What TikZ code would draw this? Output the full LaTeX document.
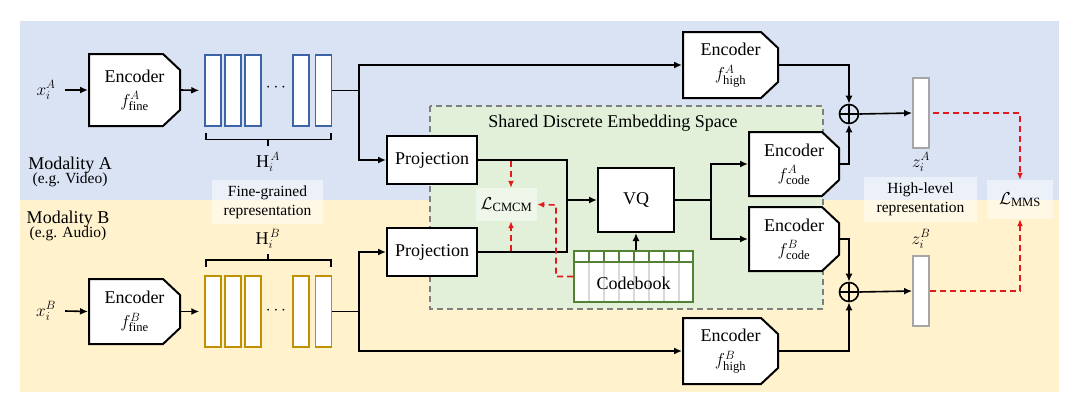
\documentclass[tikz,border=0pt]{standalone}
\usepackage{fontspec}
\setmainfont{Liberation Serif}
\usetikzlibrary{arrows.meta,calc}
\definecolor{bgblue}{HTML}{DAE3F3}
\definecolor{bgyellow}{HTML}{FFF2CC}
\definecolor{bggreen}{HTML}{E2F0D9}
\definecolor{barblue}{HTML}{3E64A8}
\definecolor{bargold}{HTML}{BF9000}
\definecolor{cbgreen}{HTML}{548235}
\definecolor{dashgray}{HTML}{7F7F7F}
\definecolor{zgray}{HTML}{A6A6A6}
\definecolor{lossred}{HTML}{E31A1C}
% name, cx, cy, w, h, text
\newcommand\encbox[6]{%
  \filldraw[fill=white,line width=2pt,line join=miter]
    ({#2-#4/2},{#3-#5/2}) -- ({#2+#4/2-17},{#3-#5/2}) -- ({#2+#4/2},{#3-#5/2+16})
    -- ({#2+#4/2},{#3+#5/2-16}) -- ({#2+#4/2-17},{#3+#5/2}) -- ({#2-#4/2},{#3+#5/2}) -- cycle;
  \node[encin,minimum width=#4pt,minimum height=#5pt] (#1) at (#2,#3) {#6};}
\begin{document}
\begin{tikzpicture}[x=1pt,y=-1pt,
  big/.style={font=\fontsize{18}{24}\selectfont},
  small/.style={font=\fontsize{15.5}{19}\selectfont},
  line/.style={line width=1.6pt},
  conn/.style={line width=1.6pt,-{Latex[length=8pt,width=7pt]}},
  rdash/.style={line width=1.6pt,draw=lossred,dash pattern=on 6pt off 4pt,-{Latex[length=7pt,width=6pt]}},
  encin/.style={rectangle,align=center,inner sep=0pt,outer sep=1pt,big},
  box/.style={draw,line width=2pt,fill=white,inner sep=0pt,big},
  barA/.style={draw=barblue,line width=1.5pt,fill=white,minimum width=16pt,minimum height=71pt,inner sep=0pt},
  barB/.style={draw=bargold,line width=1.5pt,fill=white,minimum width=16pt,minimum height=71pt,inner sep=0pt},
  zbar/.style={draw=zgray,line width=1.8pt,fill=white,minimum width=16pt,minimum height=70pt,inner sep=0pt},
  lbl/.style={fill=white,fill opacity=0.5,text opacity=1,inner sep=0pt,align=center},
  oplus/.style={circle,draw,line width=1.6pt,minimum size=19pt,inner sep=0pt},
  bracket/.style={line width=1.6pt}
]
\useasboundingbox (0,0) rectangle (1080,413);
% backgrounds
\fill[bgblue] (20,21) rectangle (1059,200);
\fill[bgyellow] (20,200) rectangle (1059,392);
\filldraw[fill=bggreen,draw=dashgray,line width=1.5pt,dash pattern=on 6pt off 4pt] (430,106) rectangle (823,309);
\node[big] (shared) at (613,123) {Shared Discrete Embedding Space};

% modality labels
\node[align=center,inner sep=0pt] (modA) at (70,172) {{\fontsize{18}{20}\selectfont Modality A}\\[-1pt]{\fontsize{15.5}{19}\selectfont (e.g. Video)}};
\node[align=center,inner sep=0pt] (modB) at (68,226) {{\fontsize{18}{20}\selectfont Modality B}\\[-1pt]{\fontsize{15.5}{19}\selectfont (e.g. Audio)}};

% inputs
\node[big,inner sep=0pt] (xA) at (46,90) {$x_i^A$};
\node[big,inner sep=0pt] (xB) at (46,311) {$x_i^B$};

% fine encoders
\encbox{encFA}{134.5}{90}{91}{72}{Encoder\\$f^A_{\mathrm{fine}}$}
\encbox{encFB}{134.5}{311.5}{91}{65}{Encoder\\$f^B_{\mathrm{fine}}$}

% bars A
\node[barA] (a1) at (213,90.5) {};
\node[barA] (a2) at (233,90.5) {};
\node[barA] (a3) at (253,90.5) {};
\node[big] (dA) at (276,88) {$\cdots$};
\node[barA] (a4) at (301,90.5) {};
\node[barA] (a5) at (323.5,90.5) {};
% bars B
\node[barB] (b1) at (213,311.5) {};
\node[barB] (b2) at (233,311.5) {};
\node[barB] (b3) at (253,311.5) {};
\node[big] (dB) at (276,311) {$\cdots$};
\node[barB] (b4) at (301,311.5) {};
\node[barB] (b5) at (323.5,311.5) {};

% brackets
\draw[bracket] (206,133) -- (206,139.5) -- (331,139.5) -- (331,133);
\draw[bracket] (268,139.5) -- (268,146);
\draw[bracket] (206,266.5) -- (206,260) -- (331,260) -- (331,266.5);
\draw[bracket] (268,260) -- (268,253.5);
\node[big,inner sep=0pt] (HA) at (268,162) {$\mathrm{H}_i^{\kern1.5pt A}$};
\node[big,inner sep=0pt] (HB) at (268,239) {$\mathrm{H}_i^{\kern1.5pt B}$};

\node[lbl,minimum width=111pt,minimum height=44pt,small] (fgr) at (267.5,202) {Fine-grained\\representation};

% projections, VQ, codebook
\node[box,minimum width=90pt,minimum height=48pt] (projA) at (432,160) {Projection};
\node[box,minimum width=90pt,minimum height=48pt] (projB) at (432,252) {Projection};
\node[box,minimum width=76pt,minimum height=64pt] (vq) at (636,200) {VQ};
\node[lbl,fill opacity=0.45,minimum width=61pt,minimum height=33pt,big] (lcm) at (506.5,204.5) {$\mathcal{L}_{\mathrm{CMCM}}$};

\fill[white] (574,251) rectangle (693,302);
\foreach \k in {1,...,7}{
  \draw[cbgreen,line width=1.2pt] (574+15*\k,251) -- (574+15*\k,262);
  \draw[black!15,line width=1.2pt] (574+15*\k,262) -- (574+15*\k,302);
}
\draw[cbgreen,line width=1.2pt] (574,262) -- (693,262);
\node[draw=cbgreen,line width=1.6pt,minimum width=119pt,minimum height=51pt,inner sep=0pt] (cb) at (633.5,276.5) {};
\node[big,inner sep=0pt] (cbt) at (633.5,283) {Codebook};

% code encoders, high encoders
\encbox{encCA}{794}{164}{90}{64}{Encoder\\$f^A_{\mathrm{code}}$}
\encbox{encCB}{794}{239}{90}{64}{Encoder\\$f^B_{\mathrm{code}}$}
\encbox{encHA}{730.5}{65}{95}{66}{Encoder\\$f^A_{\mathrm{high}}$}
\encbox{encHB}{730.5}{351}{95}{66}{Encoder\\$f^B_{\mathrm{high}}$}

% oplus
\node[oplus] (oA) at (849,114) {};
\draw[line] (oA.north) -- (oA.south) (oA.west) -- (oA.east);
\node[oplus] (oB) at (849,292) {};
\draw[line] (oB.north) -- (oB.south) (oB.west) -- (oB.east);

% z bars
\node[zbar] (zA) at (921,113) {};
\node[zbar] (zB) at (921,291) {};
\node[big,inner sep=0pt] (zAl) at (921,162) {$z_i^A$};
\node[big,inner sep=0pt] (zBl) at (921,239) {$z_i^B$};
\node[lbl,minimum width=113pt,minimum height=45pt,small] (hlr) at (920.5,199.5) {High-level\\representation};
\node[lbl,minimum width=66pt,minimum height=39pt,big] (lmms) at (1020,199.5) {$\mathcal{L}_{\mathrm{MMS}}$};

% coordinates
\coordinate (jA) at (359,90.5);
\coordinate (jB) at (359,311.5);
\coordinate (jP) at (567,200);
\coordinate (jV) at (711,200);
\coordinate (r1) at (511,161);
\coordinate (r2) at (511,251);
\coordinate (r3) at (556,205);

% connectors
\draw[conn] ([xshift=9pt]xA.east) -- (encFA.west);
\draw[conn] ([xshift=9pt]xB.east) -- (encFB.west);
\draw[conn,shorten >=5pt] (encFA.east) -- (a1.west);
\draw[conn,shorten >=5pt] (encFB.east) -- (b1.west);
\draw[line] (a5.east) -- (jA);
\draw[line] (b5.east) -- (jB);
\draw[conn] (jA) |- (encHA.west);
\draw[conn] (jA) |- (projA.west);
\draw[conn] (jB) |- (projB.west);
\draw[conn] (jB) |- (encHB.west);
\draw[line] (projA.east) -| (jP);
\draw[line] (projB.east) -| (jP);
\draw[conn] (jP) -- (vq.west);
\draw[conn] (vq.south |- cb.north) -- (vq.south);
\draw[line] (vq.east) -- (jV);
\draw[conn] (jV) |- (encCA.west);
\draw[conn] (jV) |- (encCB.west);
\draw[conn] (encHA.east) -| (oA.north);
\draw[conn] (encCA.east) -| (oA.south);
\draw[conn] (encCB.east) -| (oB.north);
\draw[conn] (encHB.east) -| (oB.south);
\draw[conn] (oA.east) -- (zA.west);
\draw[conn] (oB.east) -- (zB.west);

% red dashed
\draw[rdash] (r1) -- (r1 |- lcm.north);
\draw[rdash] (r2) -- (r2 |- lcm.south);
\draw[rdash] (cb.west) -| (r3) -- (lcm.east);
\draw[rdash] ([xshift=3pt]zA.east) -| (lmms.north);
\draw[rdash] (zB.east) -| (lmms.south);
\end{tikzpicture}
\end{document}
